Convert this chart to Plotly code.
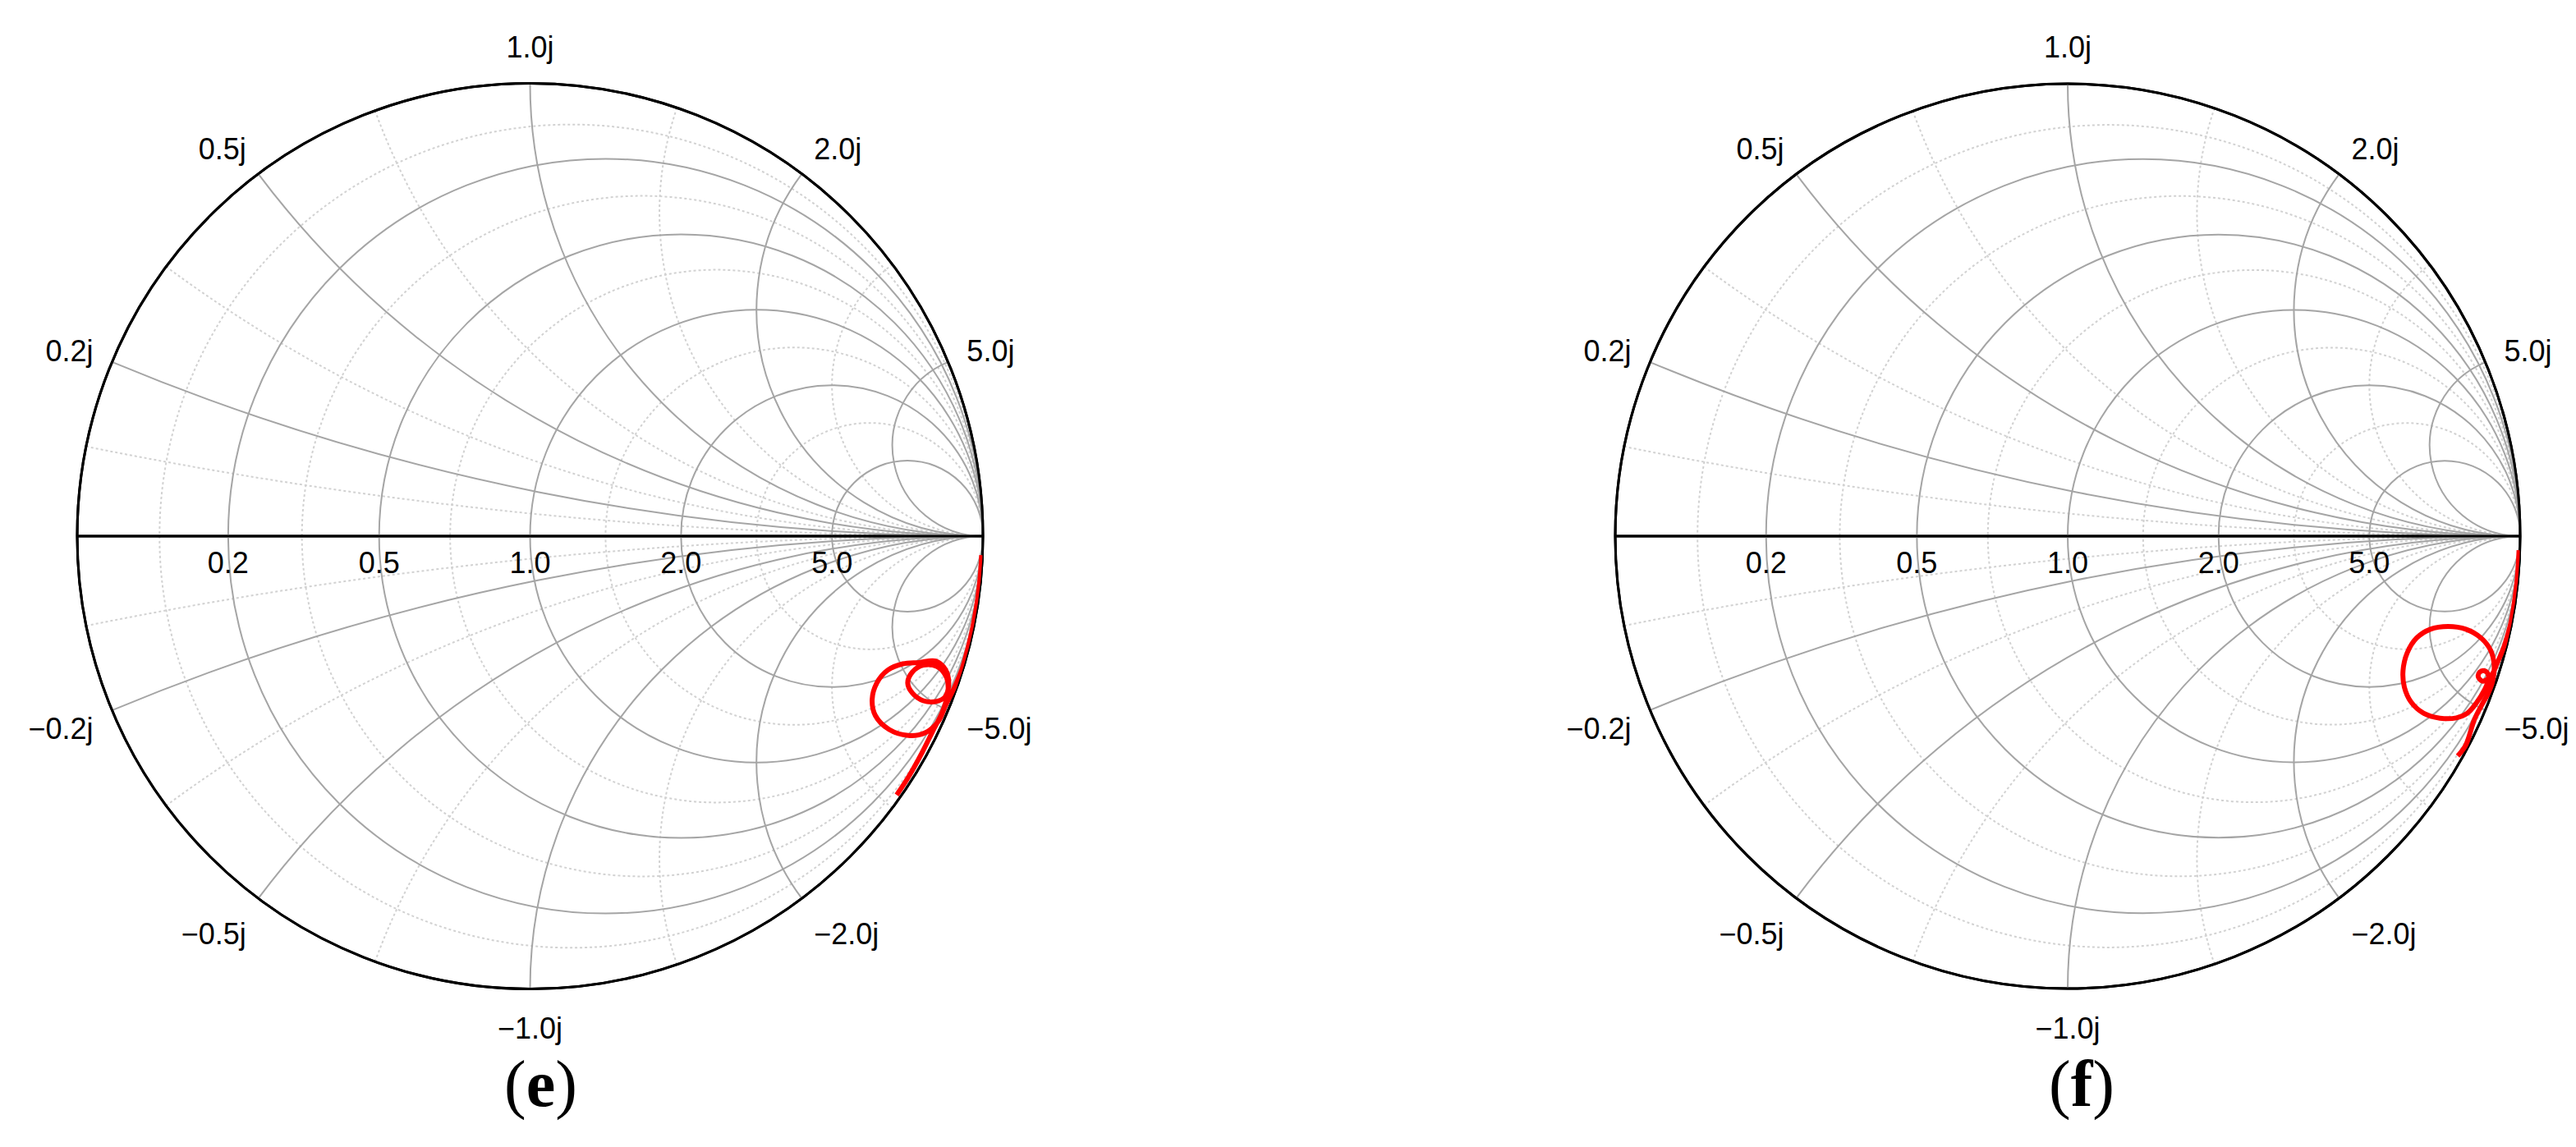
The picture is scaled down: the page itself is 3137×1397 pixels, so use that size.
import numpy as np
import plotly.graph_objects as go

# measured reflection coefficient (S11) traced from the two sweeps
s11_e_re = [0.9971, 0.9942, 0.9883, 0.9797, 0.9684, 0.9544, 0.9379, 0.9167, 0.9016, 0.8714,
            0.8351, 0.7929, 0.7627, 0.7554, 0.7657, 0.7899, 0.8230, 0.8593, 0.8955, 0.9167,
            0.9245, 0.9167, 0.8986, 0.8684, 0.8442, 0.8339, 0.8442, 0.8684, 0.8986, 0.9197,
            0.9227, 0.9107, 0.8895, 0.8654, 0.8351, 0.8096]
s11_e_im = [-0.0418, -0.0870, -0.1389, -0.1904, -0.2414, -0.2918, -0.3321, -0.3756, -0.4088, -0.4348,
            -0.4402, -0.4270, -0.3967, -0.3605, -0.3243, -0.2959, -0.2820, -0.2790, -0.2759, -0.2941,
            -0.3243, -0.3545, -0.3647, -0.3635, -0.3466, -0.3243, -0.3001, -0.2850, -0.2880, -0.3122,
            -0.3455, -0.3877, -0.4300, -0.4783, -0.5326, -0.5715]

s11_f_re = [0.9975, 0.9942, 0.9883, 0.9797, 0.9655, 0.9492, 0.9407, 0.9286, 0.9165, 0.9074,
            0.9105, 0.9207, 0.9292, 0.9286, 0.9195, 0.9044, 0.8833, 0.8590, 0.8227, 0.7864,
            0.7592, 0.7441, 0.7411, 0.7502, 0.7713, 0.8016, 0.8409, 0.8802, 0.9135, 0.9347,
            0.9425, 0.9389, 0.9286, 0.9135, 0.8984, 0.8802, 0.8620]
s11_f_im = [-0.0313, -0.0870, -0.1389, -0.1904, -0.2407, -0.2812, -0.3007, -0.3158, -0.3206, -0.3109,
            -0.3007, -0.2976, -0.3055, -0.3218, -0.3430, -0.3672, -0.3914, -0.4017, -0.4023, -0.3914,
            -0.3672, -0.3339, -0.2976, -0.2583, -0.2250, -0.2057, -0.1996, -0.2057, -0.2250, -0.2523,
            -0.2855, -0.3218, -0.3490, -0.3762, -0.4065, -0.4610, -0.4860]

major_ticks = [0.2, 0.5, 1.0, 2.0, 5.0]
minor_ticks = [0.1, 0.33, 0.7, 1.4, 3.0]
panel_labels = ["(<b>e</b>)", "(<b>f</b>)"]


def to_z(re, im):
    g = np.array(re) + 1j * np.array(im)
    return (1 + g) / (1 - g)


def both_signs(vals):
    return [-v for v in reversed(vals)] + list(vals)


fig = go.Figure()

tick_font = dict(family="Liberation Sans, Arial", size=36, color="black")

domains = [dict(x=[86 / 3137, 1189 / 3137], y=[200.5 / 1397, 1303.5 / 1397]),
           dict(x=[1959 / 3137, 3061 / 3137], y=[200.5 / 1397, 1303.5 / 1397])]

layout_smith = {}
for i, dom in enumerate(domains):
    minor_name = "smith" if i == 0 else "smith3"
    major_name = "smith2" if i == 0 else "smith4"
    layout_smith[minor_name] = dict(
        domain=dom, bgcolor="white",
        realaxis=dict(tickvals=minor_ticks, showticklabels=False, ticks="",
                      gridcolor="#d2d2d2", griddash="dot", gridwidth=1.5,
                      linecolor="black", linewidth=3),
        imaginaryaxis=dict(tickvals=both_signs(minor_ticks), showticklabels=False, ticks="",
                           gridcolor="#d2d2d2", griddash="dot", gridwidth=1.5,
                           linecolor="black", linewidth=3),
    )
    layout_smith[major_name] = dict(
        domain=dom, bgcolor="rgba(0,0,0,0)",
        realaxis=dict(tickvals=major_ticks, tickformat=".1f", tickangle=0, side="bottom",
                      ticks="",
                      gridcolor="#a5a5a5", gridwidth=1.6, layer="below traces",
                      linecolor="black", linewidth=3, tickfont=tick_font),
        imaginaryaxis=dict(tickvals=both_signs(major_ticks), tickformat=".1f", ticksuffix="j",
                           ticks="outside", ticklen=16, tickcolor="rgba(0,0,0,0)",
                           gridcolor="#a5a5a5", gridwidth=1.6, layer="below traces",
                           linecolor="black", linewidth=3, tickfont=tick_font),
    )

# empty traces so the minor-grid subplots get drawn
fig.add_trace(go.Scattersmith(real=[1], imag=[0], mode="markers", marker=dict(opacity=0),
                              subplot="smith", showlegend=False, hoverinfo="skip"))
fig.add_trace(go.Scattersmith(real=[1], imag=[0], mode="markers", marker=dict(opacity=0),
                              subplot="smith3", showlegend=False, hoverinfo="skip"))

z_e = to_z(s11_e_re, s11_e_im)
z_f = to_z(s11_f_re, s11_f_im)
fig.add_trace(go.Scattersmith(real=z_e.real, imag=z_e.imag, mode="lines",
                              line=dict(color="#ff0000", width=6, shape="spline"),
                              subplot="smith2", showlegend=False))
fig.add_trace(go.Scattersmith(real=z_f.real, imag=z_f.imag, mode="lines",
                              line=dict(color="#ff0000", width=6, shape="spline"),
                              subplot="smith4", showlegend=False))

for x, txt in zip([650 / 3137, 2527 / 3137], panel_labels):
    fig.add_annotation(x=x, y=1 - 1312 / 1397, xref="paper", yref="paper",
                       text=txt, showarrow=False, xanchor="center", yanchor="middle",
                       font=dict(family="Liberation Serif, Times New Roman", size=80, color="black"))

# hide the automatic infinity label at the open-circuit end of each real axis
for x0 in [1194, 3066]:
    fig.add_shape(type="rect", xref="paper", yref="paper", layer="above",
                  x0=x0 / 3137, x1=min(x0 + 110, 3137) / 3137,
                  y0=1 - 690 / 1397, y1=1 - 605 / 1397,
                  fillcolor="white", line=dict(width=0))

fig.update_layout(width=3137, height=1397, margin=dict(l=0, r=0, t=0, b=0),
                  paper_bgcolor="white", showlegend=False, **layout_smith)

fig.write_html("out.html")
